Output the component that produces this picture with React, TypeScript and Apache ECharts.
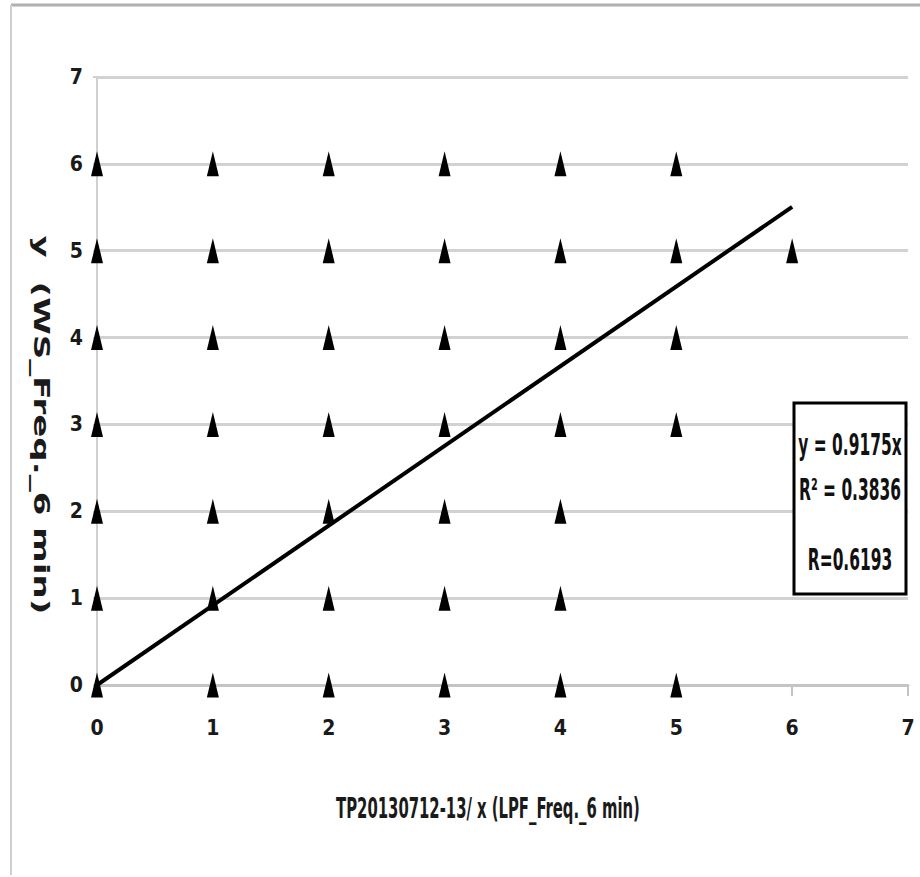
import React, { useEffect, useRef } from "react";
import * as echarts from "echarts";

// Observed points (x, y)
const yLevels = [6, 5, 4, 3, 2, 1, 0];
const xsPerLevel: number[][] = [
  [0, 1, 2, 3, 4, 5],
  [0, 1, 2, 3, 4, 5, 6],
  [0, 1, 2, 3, 4, 5],
  [0, 1, 2, 3, 4, 5],
  [0, 1, 2, 3, 4],
  [0, 1, 2, 3, 4],
  [0, 1, 2, 3, 4, 5],
];
const slope = 0.9175;
const trendX = [0, 6];
const xTicks = [0, 1, 2, 3, 4, 5, 6, 7];
const yTicks = [0, 1, 2, 3, 4, 5, 6, 7];
const equationLines = ["y = 0.9175x", "R\u00B2 = 0.3836", "R=0.6193"];
const xTitle = "TP20130712-13/ x (LPF_Freq._6 min)";
const yTitle = "y  (WS_Freq._6 min)";

const NARROW = "'Liberation Sans Narrow', 'DejaVu Sans Condensed', 'Roboto Condensed', sans-serif";

export default function App() {
  const ref = useRef<HTMLDivElement>(null);
  useEffect(() => {
    if (!ref.current) return;
    const chart = echarts.init(ref.current, null, { renderer: "svg" });
    const points: number[][] = [];
    yLevels.forEach((yv, i) => xsPerLevel[i].forEach((xv) => points.push([xv, yv])));
    const trend = trendX.map((x) => [x, x * slope]);
    const eqY = [445, 490, 560];
    chart.setOption({
      animation: false,
      backgroundColor: "#fff",
      grid: { left: 97, right: 12, top: 77, bottom: 192, containLabel: false },
      xAxis: {
        type: "value",
        min: xTicks[0],
        max: xTicks[xTicks.length - 1],
        interval: 1,
        axisLine: { show: true, lineStyle: { color: "#c4c4c4", width: 3 } },
        axisTick: { show: true, length: 11, lineStyle: { color: "#c4c4c4", width: 2 } },
        splitLine: { show: false },
        axisLabel: { color: "#1a1a1a", fontSize: 21, fontWeight: "bold", fontFamily: NARROW, margin: 32 },
      },
      yAxis: {
        type: "value",
        min: yTicks[0],
        max: yTicks[yTicks.length - 1],
        interval: 1,
        axisLine: { show: true, lineStyle: { color: "#d0d0d0", width: 2 } },
        axisTick: { show: true, length: 4, lineStyle: { color: "#d0d0d0", width: 2 } },
        splitLine: { show: true, lineStyle: { color: "#d2d2d2", width: 3 } },
        axisLabel: { color: "#1a1a1a", fontSize: 21, fontWeight: "bold", fontFamily: NARROW, margin: 14 },
      },
      series: [
        {
          type: "scatter",
          data: points,
          symbol: "triangle",
          symbolSize: [12, 25],
          itemStyle: { color: "#000", opacity: 1 },
          z: 3,
        },
        {
          type: "line",
          data: trend,
          showSymbol: false,
          symbol: "none",
          lineStyle: { color: "#000", width: 4 },
          z: 4,
        },
      ],
      graphic: [
        { type: "line", shape: { x1: 11, y1: 5, x2: 920, y2: 5 }, style: { stroke: "#b0b0b0", lineWidth: 3 } },
        { type: "line", shape: { x1: 11, y1: 5, x2: 11, y2: 875 }, style: { stroke: "#cfcfcf", lineWidth: 2 } },
        {
          type: "rect",
          shape: { x: 794, y: 403, width: 112, height: 191 },
          style: { fill: "#fff", stroke: "#000", lineWidth: 3 },
          z: 10,
        },
        ...equationLines.map((t, i) => ({
          type: "text",
          x: 850,
          y: eqY[i],
          scaleX: 0.78,
          scaleY: 1.35,
          z: 11,
          style: {
            text: t,
            fill: "#111",
            font: `bold 22px ${NARROW}`,
            textAlign: "center",
            textVerticalAlign: "middle",
          },
        })),
        {
          type: "text",
          x: 488,
          y: 808,
          scaleX: 0.75,
          scaleY: 1.3,
          style: {
            text: xTitle,
            fill: "#1a1a1a",
            font: `bold 22px ${NARROW}`,
            textAlign: "center",
            textVerticalAlign: "middle",
          },
        },
        {
          type: "text",
          x: 42,
          y: 425,
          rotation: -Math.PI / 2,
          scaleX: 1.55,
          style: {
            text: yTitle,
            fill: "#1a1a1a",
            font: "bold 22px 'DejaVu Sans', sans-serif",
            textAlign: "center",
            textVerticalAlign: "middle",
          },
        },
      ],
    });
    return () => chart.dispose();
  }, []);
  return (
    <div
      ref={ref}
      style={{ position: "fixed", left: 0, top: 0, width: 920, height: 877, background: "#fff" }}
    />
  );
}
